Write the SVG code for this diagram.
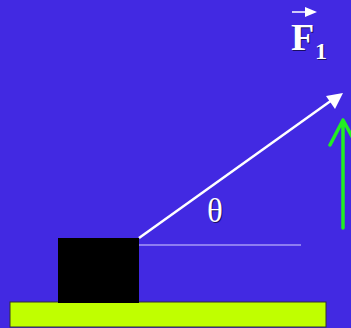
<svg xmlns="http://www.w3.org/2000/svg" width="351" height="328" viewBox="0 0 351 328">
<style>
.lbl{font-family:"Liberation Serif","Times New Roman",serif;fill:#ffffff}
.sh{font-family:"Liberation Serif","Times New Roman",serif;fill:#1a0f60}
</style>
<rect width="351" height="328" fill="#4229E2"/>
<g id="ground"><rect x="10" y="302" width="316" height="25" fill="#C0FF00" stroke="#333333" stroke-width="1"/></g>
<g id="block"><rect x="58" y="238" width="81" height="65" fill="#000000"/></g>
<g id="connectors">
<line x1="139" y1="245" x2="301" y2="245" stroke="#d8d0ff" stroke-width="1.2"/>
<line x1="139" y1="238" x2="332" y2="100" stroke="#ffffff" stroke-width="2.5"/>
<path d="M343,93 L326,96 L335,109 Z" fill="#ffffff"/>
<path d="M343,228 L343,120 M330,145 L343,120 L354,140" fill="none" stroke="#22ee22" stroke-width="3.5" stroke-linecap="round" stroke-linejoin="round"/>
</g>
<g id="theta">
<text x="215" y="222" font-size="33" text-anchor="middle" class="sh" transform="translate(1,1)">θ</text>
<text x="215" y="222" font-size="33" text-anchor="middle" class="lbl">θ</text>
</g>
<g id="F1">
<line x1="292" y1="12" x2="308" y2="12" stroke="#ffffff" stroke-width="1.5"/>
<path d="M317,12 L305,7 L305,17 Z" fill="#ffffff"/>
<text x="292" y="51" font-size="38" font-weight="bold" class="sh">F</text>
<text x="291" y="50" font-size="38" font-weight="bold" class="lbl">F</text>
<text x="316" y="60" font-size="24" font-weight="bold" class="sh">1</text>
<text x="315" y="59" font-size="24" font-weight="bold" class="lbl">1</text>
</g>
</svg>
